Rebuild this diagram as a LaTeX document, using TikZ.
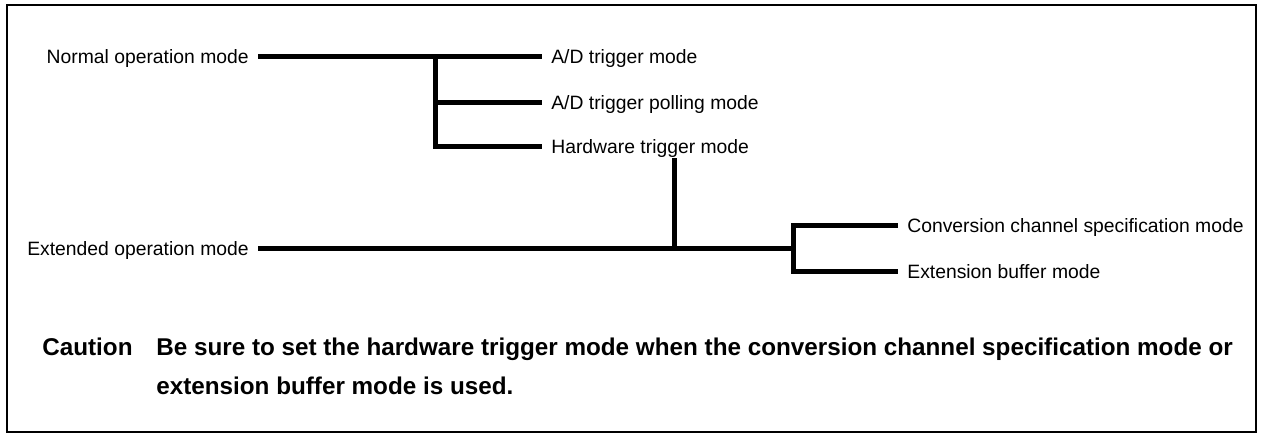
\documentclass[tikz,border=0pt]{standalone}
\usepackage{fontspec}
\setmainfont{Liberation Sans}
\usetikzlibrary{positioning}

\begin{document}
\begin{tikzpicture}[
			x=0.02cm, y=-0.02cm,
			mode/.style={inner xsep=0.18cm, inner ysep=0.08cm, text height=7.9pt, text depth=0pt, font=\fontsize{11}{13}\selectfont},
			note/.style={inner sep=0pt, align=left, font=\fontsize{13.8}{22}\selectfont\bfseries},
			bar/.style={line width=0.1cm},
			frame/.style={line width=0.055cm}
		]
		\useasboundingbox (0,0) rectangle (1263,435);
		\draw[frame] (7,5) rectangle (1256,432);
		
		\node[mode, anchor=east] (normal) at (258,57) {Normal operation mode};
		\node[mode, anchor=west] (adtrig) at (542,57) {A/D trigger mode};
		\node[mode, anchor=west] (adpoll) at (542,103) {A/D trigger polling mode};
		\node[mode, anchor=west] (hwtrig) at (542,147) {Hardware trigger mode};
		\node[mode, anchor=east] (extended) at (258,249) {Extended operation mode};
		\node[mode, anchor=west] (convch) at (898,226) {Conversion channel specification mode};
		\node[mode, anchor=west] (extbuf) at (898,272) {Extension buffer mode};
		\coordinate (normaljoin) at (435,57);
		\coordinate (hwjoin) at (674,249);
		\coordinate (extjoin) at (793,249);
		
		\draw[bar] (normal) -- (adtrig);
		\draw[bar] (normaljoin) |- (adpoll);
		\draw[bar] (normaljoin) |- (hwtrig);
		\draw[bar] (hwtrig.south -| hwjoin) -- (hwjoin);
		\draw[bar] (extended) -- (extjoin);
		\draw[bar] (extjoin) |- (convch);
		\draw[bar] (extjoin) |- (extbuf);
		
		\node[note, anchor=base west] (caution) at (42,355) {Caution};
		\node[note, anchor=north west] (cautiontext) at (156,338) {Be sure to set the hardware trigger mode when the conversion channel specification mode or\\extension buffer mode is used.};
		\end{tikzpicture}
\end{document}
